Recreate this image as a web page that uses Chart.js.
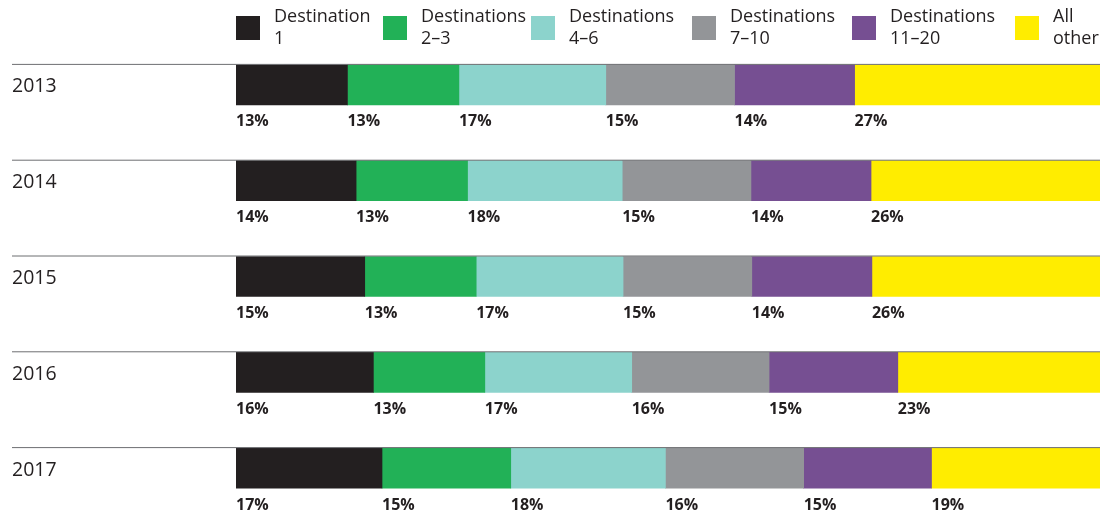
<!DOCTYPE html>
<html>
<head>
<meta charset="UTF-8">
<title>Share by destination group</title>
<script src="https://cdn.jsdelivr.net/npm/chart.js@4/dist/chart.umd.min.js"></script>
<style>
  html, body {margin: 0; padding: 0; background: #fff;}
  #wrap {width: 1112px; height: 516px; position: relative;}
</style>
</head>
<body>
<div id="wrap"><canvas id="shares"></canvas></div>
<script>
// years (rows)
var years = ['2013', '2014', '2015', '2016', '2017'];

// series names, two lines each as printed in the legend
var seriesNames = [
  ['Destination', '1'],
  ['Destinations', '2\u20133'],
  ['Destinations', '4\u20136'],
  ['Destinations', '7\u201310'],
  ['Destinations', '11\u201320'],
  ['All', 'other']
];
var seriesColors = ['#231f20', '#22b157', '#8cd3cc', '#939598', '#764f92', '#ffed00'];

// bar lengths, share of total (%) as measured on the bars
var dest1     = [12.9, 13.9, 14.9, 15.9, 16.9];
var dest2to3  = [12.9, 12.9, 12.9, 12.9, 14.9];
var dest4to6  = [17.0, 17.9, 17.0, 17.0, 17.9];
var dest7to10 = [14.9, 14.9, 14.9, 15.9, 16.0];
var dest11to20 = [13.9, 13.9, 13.9, 14.9, 14.8];
var allOther  = [28.4, 26.5, 26.4, 23.4, 19.5];

// printed percentages under each segment
var pct1     = [13, 14, 15, 16, 17];
var pct2to3  = [13, 13, 13, 13, 15];
var pct4to6  = [17, 18, 17, 17, 18];
var pct7to10 = [15, 15, 15, 16, 16];
var pct11to20 = [14, 14, 14, 15, 15];
var pctOther = [27, 26, 26, 23, 19];

var seriesValues = [dest1, dest2to3, dest4to6, dest7to10, dest11to20, allOther];
var seriesPct = [pct1, pct2to3, pct4to6, pct7to10, pct11to20, pctOther];

var textColor = '#231f20';
var fontFamily = '"Open Sans", "DejaVu Sans", sans-serif';

// legend, year labels, row rules and percent labels
var decorations = {
  id: 'decorations',
  afterDatasetsDraw: function (chart) {
    var ctx = chart.ctx;
    var area = chart.chartArea;
    var yScale = chart.scales.y;
    ctx.save();

    // legend
    var legendX = [236, 383, 531, 692, 852, 1015];
    ctx.font = '18px ' + fontFamily;
    ctx.textBaseline = 'middle';
    ctx.textAlign = 'left';
    seriesNames.forEach(function (name, i) {
      ctx.fillStyle = seriesColors[i];
      ctx.fillRect(legendX[i], 16, 24, 24);
      ctx.fillStyle = textColor;
      ctx.fillText(name[0], legendX[i] + 38, 17);
      ctx.fillText(name[1], legendX[i] + 38, 39);
    });

    years.forEach(function (yr, r) {
      var cy = yScale.getPixelForValue(r);
      var meta0 = chart.getDatasetMeta(0).data[r];
      var top = cy - meta0.height / 2;
      var bottom = cy + meta0.height / 2;

      // rule above the row
      ctx.strokeStyle = '#6d6e71';
      ctx.lineWidth = 1;
      ctx.beginPath();
      ctx.moveTo(12, top - 0.5);
      ctx.lineTo(area.right, top - 0.5);
      ctx.stroke();

      // year label
      ctx.fillStyle = textColor;
      ctx.font = '19.5px ' + fontFamily;
      ctx.textBaseline = 'middle';
      ctx.fillText(yr, 12, cy + 2);

      // percent labels
      ctx.font = 'bold 16px ' + fontFamily;
      chart.data.datasets.forEach(function (ds, i) {
        var bar = chart.getDatasetMeta(i).data[r];
        var x0 = Math.min(bar.x, bar.base);
        ctx.fillText(seriesPct[i][r] + '%', x0, bottom + 17);
      });
    });
    ctx.restore();
  }
};

new Chart(document.getElementById('shares'), {
  type: 'bar',
  data: {
    labels: years,
    datasets: seriesValues.map(function (vals, i) {
      return {
        label: seriesNames[i].join(' '),
        data: vals,
        backgroundColor: seriesColors[i],
        borderWidth: 0,
        barThickness: 40
      };
    })
  },
  options: {
    indexAxis: 'y',
    responsive: true,
    maintainAspectRatio: false,
    animation: false,
    layout: {padding: {top: 37, left: 236, right: 12, bottom: 0}},
    plugins: {legend: {display: false}, tooltip: {enabled: false}},
    scales: {
      x: {stacked: true, min: 0, max: 100, display: false},
      y: {stacked: true, display: false}
    }
  },
  plugins: [decorations]
});
</script>
</body>
</html>
